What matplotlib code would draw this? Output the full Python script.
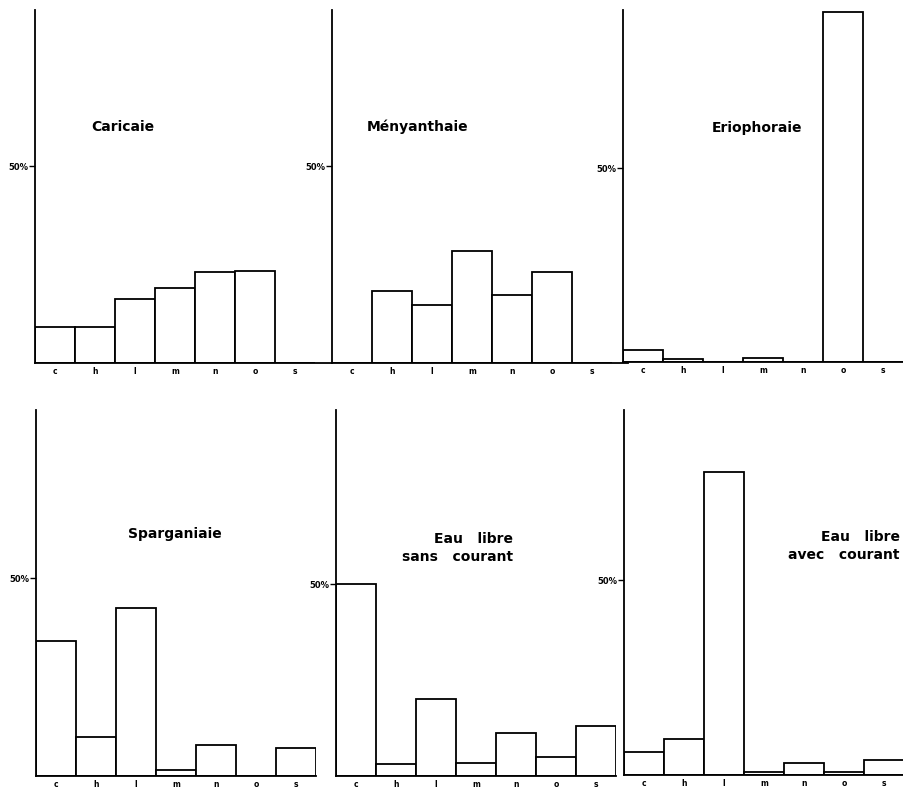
import matplotlib
matplotlib.use('Agg')
import matplotlib.pyplot as plt
import numpy as np

# categories on the x axis
categories = ['c', 'h', 'l', 'm', 'n', 'o', 's']

# percentages
caricaie = [9.1, 9.1, 16.2, 19.0, 23.0, 23.3, 0.0]
menyanthaie = [0.0, 18.3, 14.7, 28.4, 17.3, 23.1, 0.0]
eriophoraie = [3.1, 0.8, 0.0, 1.0, 0.0, 90.2, 0.0]
sparganiaie = [34.2, 9.8, 42.5, 1.5, 7.8, 0.0, 7.0]
sans_courant = [50.0, 3.1, 20.0, 3.3, 11.3, 5.0, 13.0]
avec_courant = [5.9, 9.2, 77.7, 0.8, 3.1, 0.8, 3.8]

titles = ['Caricaie', 'Ményanthaie', 'Eriophoraie',
          'Sparganiaie', 'Eau   libre\nsans   courant', 'Eau   libre\navec   courant']
series = [caricaie, menyanthaie, eriophoraie, sparganiaie, sans_courant, avec_courant]

W, H = 904, 790
fig = plt.figure(figsize=(W / 100, H / 100), dpi=100)

# panel geometry in pixels: left axis x, baseline y, axis top y, 50% tick y
lefts = [35, 332, 623, 36, 336, 624]
bases = [363, 363, 362, 776, 776, 775]
tops = [10, 10, 10, 410, 410, 410]
fifty = [166, 166, 168, 578, 584, 580]
# right end of the baseline, in bar units
xends = [6.9, 6.9, 6.6, 6.5, 6.5, 6.5]
# title anchor (x, y in px), horizontal alignment
title_pos = [(123, 127, 'center'), (418, 127, 'center'), (757, 128, 'center'),
             (175, 534, 'center'), (513, 548, 'right'), (900, 546, 'right')]

bar_px = 40.0
x = np.arange(len(categories))

for i in range(6):
    L, B, T, F = lefts[i], bases[i], tops[i], fifty[i]
    pxper = (B - F) / 50.0
    ymax = (B - T) / pxper
    xr = xends[i] + 0.5
    ax = fig.add_axes([L / W, (H - B) / H, bar_px * xr / W, (B - T) / H])
    ax.bar(x, series[i], width=1.0, color='white', edgecolor='black', linewidth=1.3)
    ax.set_xlim(-0.5, -0.5 + xr)
    ax.set_ylim(0, ymax)
    for s in ['top', 'right']:
        ax.spines[s].set_visible(False)
    for s in ['left', 'bottom']:
        ax.spines[s].set_linewidth(1.3)
    ax.set_yticks([50])
    ax.set_yticklabels(['50%'], fontsize=6, fontweight='bold')
    ax.tick_params(axis='y', length=4, width=1, pad=1)
    ax.set_xticks(x)
    ax.set_xticklabels(categories, fontsize=5.5, fontweight='bold')
    ax.tick_params(axis='x', length=0, pad=3)
    ax.patch.set_alpha(0)

    tx, ty, ha = title_pos[i]
    fig.text(tx / W, 1 - ty / H, titles[i], ha=ha, va='center', fontsize=10,
             fontweight='bold', linespacing=1.4, multialignment='right')

plt.savefig('out.png', dpi=100, facecolor='white')
